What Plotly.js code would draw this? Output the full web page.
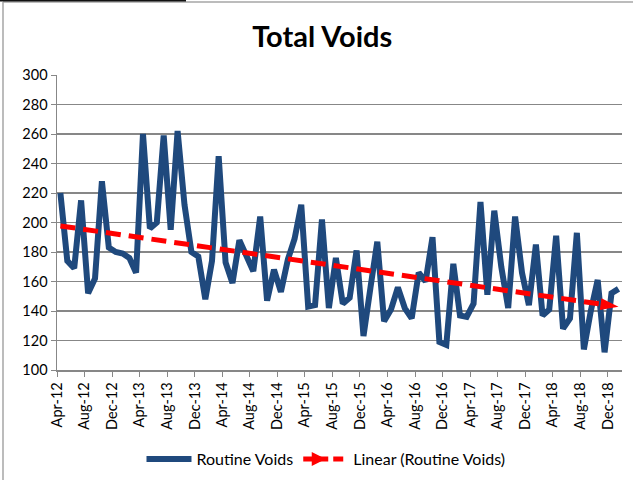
<!DOCTYPE html>
<html>
<head>
<meta charset="utf-8">
<script src="https://cdn.plot.ly/plotly-3.0.1.min.js"></script>
<style>
  html, body { margin: 0; padding: 0; background: #fff; }
  #chart { width: 633px; height: 480px; }
</style>
</head>
<body>
<div id="chart"></div>
<script>
// Months (one point per month)
const months = [
  '2012-04','2012-05','2012-06','2012-07','2012-08','2012-09','2012-10','2012-11','2012-12',
  '2013-01','2013-02','2013-03','2013-04','2013-05','2013-06','2013-07','2013-08','2013-09','2013-10','2013-11','2013-12',
  '2014-01','2014-02','2014-03','2014-04','2014-05','2014-06','2014-07','2014-08','2014-09','2014-10','2014-11','2014-12',
  '2015-01','2015-02','2015-03','2015-04','2015-05','2015-06','2015-07','2015-08','2015-09','2015-10','2015-11','2015-12',
  '2016-01','2016-02','2016-03','2016-04','2016-05','2016-06','2016-07','2016-08','2016-09','2016-10','2016-11','2016-12',
  '2017-01','2017-02','2017-03','2017-04','2017-05','2017-06','2017-07','2017-08','2017-09','2017-10','2017-11','2017-12',
  '2018-01','2018-02','2018-03','2018-04','2018-05','2018-06','2018-07','2018-08','2018-09','2018-10','2018-11','2018-12',
  '2019-01'
];

// Routine Voids
const routineVoids = [
  220,174,169,215,152,162,228,183,180,
  179,176,166,260,196,200,259,195,262,212,180,177,
  148,174,245,173,159,188,177,167,204,147,168,153,
  175,189,212,143,144,202,142,176,145,149,181,123,
  156,187,133,141,156,142,135,166,160,190,119,117,
  172,137,136,145,214,151,208,170,142,204,166,144,
  185,137,141,191,128,135,193,114,140,161,112,152,
  155
];

// Axis tick positions and labels
const tickVals = ['2012-04-01','2012-08-01','2012-12-01','2013-04-01','2013-08-01','2013-12-01',
  '2014-04-01','2014-08-01','2014-12-01','2015-04-01','2015-08-01','2015-12-01',
  '2016-04-01','2016-08-01','2016-12-01','2017-04-01','2017-08-01','2017-12-01',
  '2018-04-01','2018-08-01','2018-12-01'];
const tickText = ['Apr-12','Aug-12','Dec-12','Apr-13','Aug-13','Dec-13',
  'Apr-14','Aug-14','Dec-14','Apr-15','Aug-15','Dec-15',
  'Apr-16','Aug-16','Dec-16','Apr-17','Aug-17','Dec-17',
  'Apr-18','Aug-18','Dec-18'];

// Linear trend (least squares over the month index, as Excel does)
const n = routineVoids.length;
let sx = 0, sy = 0, sxx = 0, sxy = 0;
for (let i = 0; i < n; i++) {
  const xi = i + 1, yi = routineVoids[i];
  sx += xi; sy += yi; sxx += xi * xi; sxy += xi * yi;
}
const slope = (n * sxy - sx * sy) / (n * sxx - sx * sx);
const intercept = (sy - slope * sx) / n;
const trendX = [months[0], months[n - 1]];
const trendY = [intercept + slope * 1, intercept + slope * n];

const font = 'Lato, "Liberation Sans", Arial, sans-serif';
const grid = '#878787';
const red = '#FF0000';
const trendDash = '15px,8px';

const M = { l: 57, r: 11, t: 75, b: 110 };
const plotW = 633 - M.l - M.r, plotH = 480 - M.t - M.b;
const px = v => (v - M.l) / plotW;
const py = v => (480 - M.b - v) / plotH;

const traces = [
  {
    x: months, y: routineVoids,
    xperiod: 'M1', xperiodalignment: 'middle',
    type: 'scatter', mode: 'lines', name: 'Routine Voids',
    line: { color: '#1F497D', width: 6, shape: 'linear' },
    hoverinfo: 'x+y'
  },
  {
    x: trendX, y: trendY,
    xperiod: 'M1', xperiodalignment: 'middle',
    type: 'scatter', mode: 'lines+markers', name: 'Linear (Routine Voids)',
    showlegend: false,
    line: { color: red, width: 5, dash: trendDash },
    marker: { color: red, symbol: 'arrow', size: [0, 19], opacity: 1,
              angleref: 'previous', standoff: 0, line: { width: 0 } },
    hoverinfo: 'skip'
  },
  {
    // legend entry only (a single empty value, draws nothing in the plot)
    x: [months[0]], y: [null],
    type: 'scatter', mode: 'lines+markers', name: 'Linear (Routine Voids)',
    line: { color: red, width: 5, dash: '10px,5px' },
    marker: { color: red, symbol: 'arrow-right', size: 14, line: { width: 0 } },
    hoverinfo: 'skip'
  }
];

const layout = {
  width: 633, height: 480,
  margin: M,
  paper_bgcolor: '#ffffff', plot_bgcolor: '#ffffff',
  font: { family: font, size: 14, color: '#000000' },
  title: {
    text: '<b>Total Voids</b>',
    font: { family: font, size: 29, color: '#000000' },
    xref: 'container', x: 0.509, xanchor: 'center',
    yref: 'container', y: 1 - 37 / 480, yanchor: 'middle'
  },
  xaxis: {
    type: 'date',
    range: ['2012-04-01', '2019-02-01'],
    tickmode: 'array', tickvals: tickVals, ticktext: tickText,
    tickangle: -90,
    ticks: 'outside', ticklen: 5, tickcolor: grid, tickwidth: 1,
    showgrid: false, zeroline: false,
    showline: true, linecolor: grid, linewidth: 1.5,
    tickfont: { family: font, size: 14.5, color: '#000' },
    fixedrange: true
  },
  yaxis: {
    range: [100, 300], dtick: 20, tick0: 100,
    ticks: 'outside', ticklen: 5, tickcolor: grid, tickwidth: 1,
    showgrid: true, gridcolor: grid, gridwidth: 1.5,
    zeroline: false,
    showline: true, linecolor: grid, linewidth: 1.5,
    tickfont: { family: font, size: 14.5, color: '#000' },
    fixedrange: true
  },
  showlegend: true,
  legend: {
    orientation: 'h',
    xref: 'container', x: 0.515, xanchor: 'center',
    yref: 'container', y: 1 - 459 / 480, yanchor: 'middle',
    font: { family: font, size: 16, color: '#000' },
    bgcolor: 'rgba(0,0,0,0)',
    itemwidth: 45
  },
  shapes: [
    { type: 'line', xref: 'paper', yref: 'paper', x0: px(3), x1: px(3), y0: py(2), y1: py(480),
      line: { color: '#A6A6A6', width: 1.5 } },
    { type: 'line', xref: 'paper', yref: 'paper', x0: px(3), x1: px(633), y0: py(2), y1: py(2),
      line: { color: '#A6A6A6', width: 1.5 } },
    { type: 'line', xref: 'paper', yref: 'paper', x0: px(0), x1: px(186), y0: py(0.5), y1: py(0.5),
      line: { color: '#111111', width: 2 } }
  ]
};

Plotly.newPlot('chart', traces, layout, { displayModeBar: false, staticPlot: true });
</script>
</body>
</html>
